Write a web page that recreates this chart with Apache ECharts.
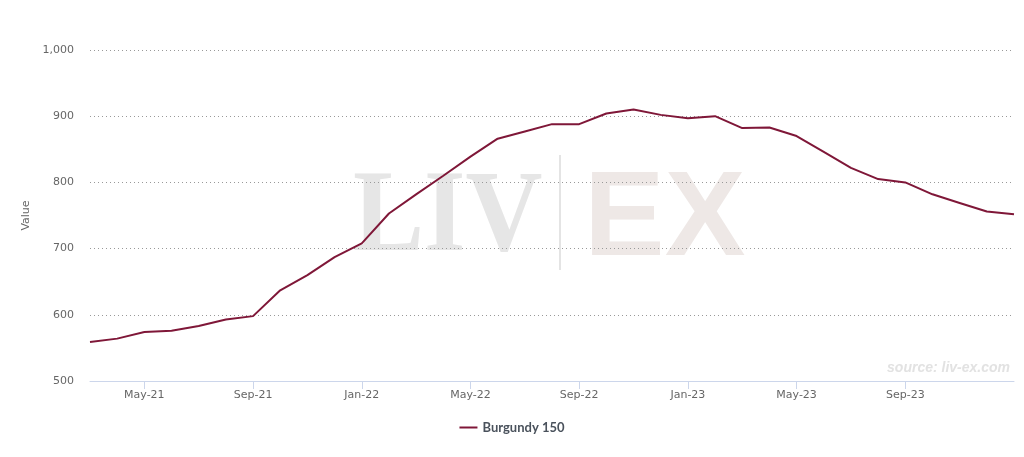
<!DOCTYPE html>
<html>
<head>
<meta charset="utf-8">
<script src="https://cdn.jsdelivr.net/npm/echarts@6/dist/echarts.min.js"></script>
<style>
  html, body { margin: 0; padding: 0; background: #fff; }
  #chart { width: 1024px; height: 457px; }
</style>
</head>
<body>
<div id="chart"></div>
<script>
/* ── data ── */
const months = [
  "Mar-21", "Apr-21", "May-21", "Jun-21", "Jul-21", "Aug-21", "Sep-21", "Oct-21", "Nov-21", "Dec-21",
  "Jan-22", "Feb-22", "Mar-22", "Apr-22", "May-22", "Jun-22", "Jul-22", "Aug-22", "Sep-22", "Oct-22", "Nov-22", "Dec-22",
  "Jan-23", "Feb-23", "Mar-23", "Apr-23", "May-23", "Jun-23", "Jul-23", "Aug-23", "Sep-23", "Oct-23", "Nov-23", "Dec-23",
  "Jan-24"
];
const burgundy150 = [
  559, 564, 574, 576, 583, 593, 598, 637, 660, 687,
  708, 753, 782, 810, 839, 866, 877, 888, 888, 904, 910, 902,
  897, 900, 882, 883, 870, 846, 822, 805, 800, 782, 769, 756,
  752
];
const xTickLabels = ["May-21", "Sep-21", "Jan-22", "May-22", "Sep-22", "Jan-23", "May-23", "Sep-23"];
const yTicks = [500, 600, 700, 800, 900, 1000];

/* ── constants ── */
const LINE = "#7f1738";
const LABEL = "#666666";
const chart = echarts.init(document.getElementById("chart"));

const showTick = (i) => xTickLabels.includes(months[i]);

chart.setOption({
  animation: false,
  grid: { left: 90, right: 10, top: 50, bottom: 76, outerBoundsMode: "none" },
  graphic: [
    {
      type: "text", left: 353, top: 161, z: 0, silent: true, scaleX: 0.91,
      style: { text: "LIV", font: "bold 117px 'Liberation Serif', 'DejaVu Serif', serif", fill: "#e6e6e6" },
    },
    {
      type: "rect", left: 559, top: 155, z: 0, silent: true,
      shape: { width: 2, height: 115 }, style: { fill: "#e4e4e4" },
    },
    {
      type: "text", left: 584, top: 161, z: 0, silent: true,
      style: { text: "EX", font: "bold 121px 'Liberation Sans', 'DejaVu Sans', sans-serif", fill: "#eee8e6" },
    },
    {
      type: "text", right: 14, top: 361, z: 0, silent: true,
      style: { text: "source: liv-ex.com", font: "italic bold 14px 'Liberation Sans', sans-serif", fill: "#e2e2e2" },
    },
  ],
  legend: {
    bottom: 18, left: "center",
    icon: "rect", itemWidth: 18, itemHeight: 2, itemGap: 8,
    textStyle: { fontFamily: "Lato, 'Open Sans', sans-serif", fontWeight: "bold", fontSize: 13, color: "#4a525c" },
    data: ["Burgundy 150"],
  },
  xAxis: {
    type: "category", data: months, boundaryGap: false,
    axisLine: { lineStyle: { color: "#ccd6eb" } },
    axisTick: { interval: showTick, length: 8, lineStyle: { color: "#ccd6eb" } },
    axisLabel: {
      interval: showTick, color: LABEL, fontSize: 11, margin: 9,
      fontFamily: "'DejaVu Sans', sans-serif",
    },
    splitLine: { show: false },
  },
  yAxis: {
    type: "value", min: 500, max: 1000, interval: 100,
    name: "Value", nameLocation: "middle", nameGap: 58,
    nameTextStyle: { color: LABEL, fontSize: 11, fontFamily: "'DejaVu Sans', sans-serif" },
    axisLine: { show: false }, axisTick: { show: false },
    axisLabel: {
      color: LABEL, fontSize: 11, margin: 16,
      fontFamily: "'DejaVu Sans', sans-serif",
      formatter: (v) => (yTicks.includes(v) ? v.toLocaleString("en-US") : ""),
    },
    splitLine: { lineStyle: { color: "#999999", type: [1, 3], width: 1 } },
  },
  series: [
    {
      name: "Burgundy 150", type: "line", data: burgundy150,
      symbol: "none", z: 5,
      lineStyle: { color: LINE, width: 2 },
      itemStyle: { color: LINE },
    },
  ],
});
</script>
</body>
</html>
